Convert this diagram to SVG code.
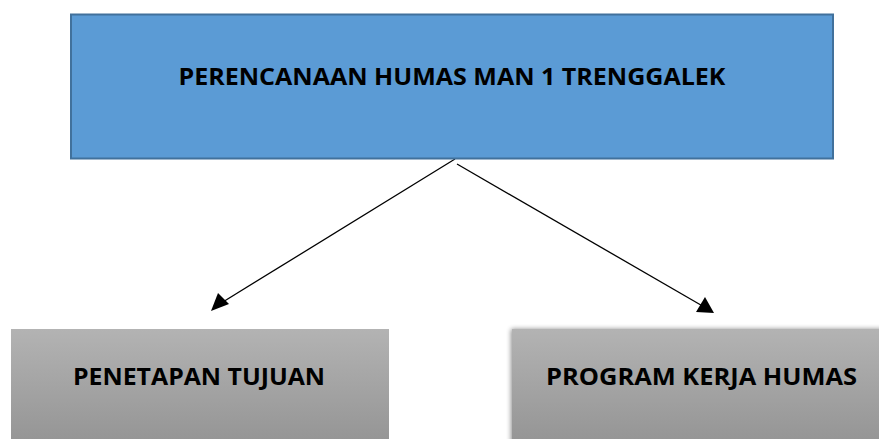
<svg xmlns="http://www.w3.org/2000/svg" width="879" height="439" viewBox="0 0 879 439">
<defs>
<style>
.lbl{font-family:"Open Sans","Liberation Sans",Arial,sans-serif;font-weight:bold;fill:#000;text-anchor:middle}
.con{stroke:#000;stroke-width:1.3;fill:none}
.head{fill:#000}
</style>
<linearGradient id="gray" x1="0" y1="0" x2="0" y2="1">
<stop offset="0" stop-color="#b3b3b3"/>
<stop offset="1" stop-color="#939393"/>
</linearGradient>
<filter id="sh" x="-5%" y="-5%" width="110%" height="110%">
<feGaussianBlur in="SourceAlpha" stdDeviation="2.5"/>
<feOffset dx="-1" dy="0"/>
<feComponentTransfer><feFuncA type="linear" slope="0.45"/></feComponentTransfer>
<feMerge><feMergeNode/><feMergeNode in="SourceGraphic"/></feMerge>
</filter>
</defs>
<rect width="879" height="439" fill="#fff"/>
<g id="connectors">
<line class="con" x1="455" y1="159" x2="218" y2="305"/>
<polygon class="head" points="211,311 218,293 229,304"/>
<line class="con" x1="457" y1="164" x2="706" y2="308"/>
<polygon class="head" points="714,313 696,312 705,297"/>
</g>
<g id="node-top">
<rect x="71" y="14.5" width="762" height="144" fill="#5b9bd5" stroke="#41719c" stroke-width="2"/>
<text class="lbl" x="452" y="85" font-size="24" textLength="547" lengthAdjust="spacingAndGlyphs">PERENCANAAN HUMAS MAN 1 TRENGGALEK</text>
</g>
<g id="node-left">
<rect x="11" y="329" width="378" height="120" fill="url(#gray)"/>
<text class="lbl" x="199" y="385" font-size="24" textLength="252" lengthAdjust="spacingAndGlyphs">PENETAPAN TUJUAN</text>
</g>
<g id="node-right">
<rect x="512" y="329" width="380" height="120" fill="url(#gray)" filter="url(#sh)"/>
<text class="lbl" x="701.5" y="385" font-size="24" textLength="311" lengthAdjust="spacingAndGlyphs">PROGRAM KERJA HUMAS</text>
</g>
</svg>
